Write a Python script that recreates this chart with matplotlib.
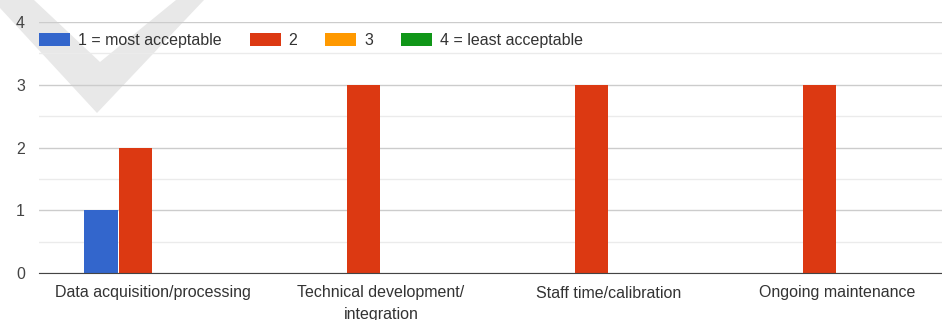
import matplotlib
matplotlib.use("Agg")
import matplotlib.pyplot as plt
import numpy as np
from matplotlib.patches import Polygon
from matplotlib.ticker import MultipleLocator

# ── Data ───────────────────────────────────────────────────────────────────────
CATEGORIES = ["Data acquisition/processing", "Technical development/\nintegration",
              "Staff time/calibration", "Ongoing maintenance"]
SERIES = ["1 = most acceptable", "2", "3", "4 = least acceptable"]
RANK_1 = [1, 0, 0, 0]
RANK_2 = [2, 3, 3, 3]
RANK_3 = [0, 0, 0, 0]
RANK_4 = [0, 0, 0, 0]
COLOURS = ["#3366cc", "#dc3912", "#ff9900", "#109618"]

plt.rcParams["font.family"] = ["Liberation Sans", "DejaVu Sans"]
FS = 11.5

W, H = 942, 320
fig = plt.figure(figsize=(W / 100, H / 100), dpi=100)

# faint watermark check-mark (pixel coords, y downward)
wm = [(0, 8), (0, 0), (34, 0), (100, 62), (176, 0), (204, 0), (97, 113)]
fig.patches.append(Polygon([(x / W, 1 - y / H) for x, y in wm], closed=True,
                           transform=fig.transFigure, facecolor="#e8e8e8",
                           edgecolor="none", zorder=0))

ax = fig.add_axes([39 / W, 47 / H, 912 / W, 251 / H])
ax.set_facecolor("none")
ax.set_zorder(2)

x = np.arange(len(CATEGORIES))
bw = 0.153
for i, (vals, col, lab) in enumerate(zip([RANK_1, RANK_2, RANK_3, RANK_4], COLOURS, SERIES)):
    ax.bar(x + (i - 1.5) * bw, vals, bw * 0.97, color=col, label=lab, zorder=3)

ax.set_xlim(-0.5, len(CATEGORIES) - 0.5)
ax.set_ylim(0, 4)
ax.yaxis.set_major_locator(MultipleLocator(1))
ax.yaxis.set_minor_locator(MultipleLocator(0.5))
ax.grid(axis="y", which="major", color="#cccccc", linewidth=1, zorder=1)
ax.grid(axis="y", which="minor", color="#ebebeb", linewidth=1, zorder=1)
ax.grid(axis="x", visible=False)
for s in ["top", "right", "left"]:
    ax.spines[s].set_visible(False)
ax.spines["bottom"].set_color("#444444")
ax.spines["bottom"].set_zorder(4)

ax.set_xticks(x)
ax.set_xticklabels(CATEGORIES, fontsize=FS, color="#333333", linespacing=1.5)
ax.tick_params(axis="x", length=0, pad=9)
ax.tick_params(axis="y", which="both", length=0, labelsize=FS, labelcolor="#444444", pad=10)

ax.legend(loc="center left", bbox_to_anchor=(0.0, 0.928), ncol=4, frameon=False,
          fontsize=FS, handlelength=1.94, handleheight=0.875, handletextpad=0.5,
          columnspacing=1.75, borderaxespad=0, borderpad=0, labelcolor="#333333")

fig.savefig("out.png", dpi=100)
